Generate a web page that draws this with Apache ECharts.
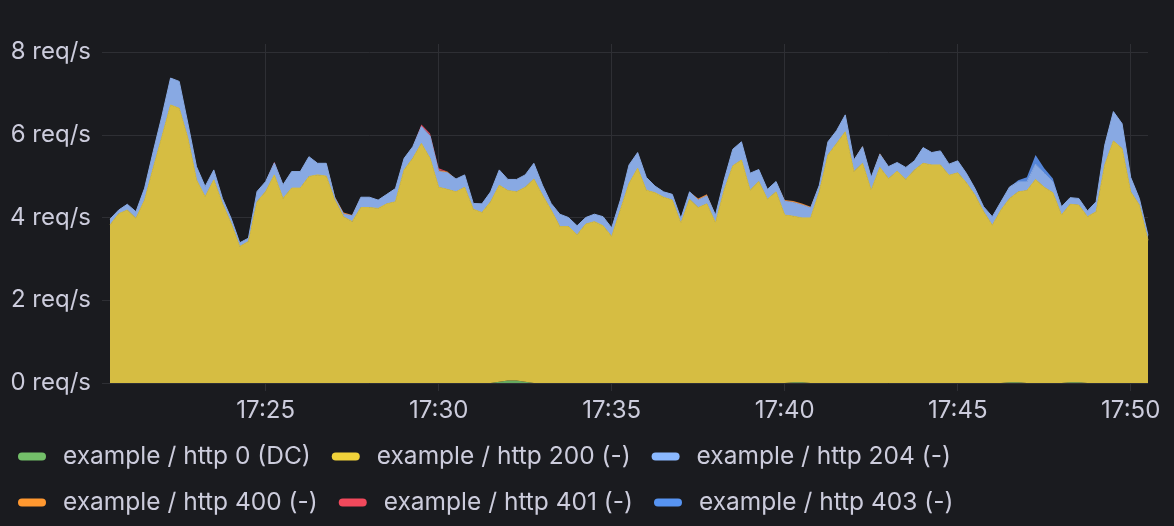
<!DOCTYPE html>
<html>
<head>
<meta charset="utf-8">
<script src="https://cdn.jsdelivr.net/npm/echarts@6/dist/echarts.min.js"></script>
<style>
    html, body { margin: 0; padding: 0; background: #1a1b1f; }
    #mainChart { width: 1174px; height: 526px; }
</style>
</head>
<body>
<div id="mainChart"></div>
<script>
// samples every 15 s, first one at 17:20:30
var startTime = new Date(2024, 0, 1, 17, 20, 30).getTime();
var stepMs = 15000;
var sampleCount = 121;
var yTicks = [0, 2, 4, 6, 8];
var seriesNames = ['example / http 0 (DC)', 'example / http 200 (-)', 'example / http 204 (-)',
    'example / http 400 (-)', 'example / http 401 (-)', 'example / http 403 (-)'];

var http200 = [
    3.82, 4.09, 4.18, 3.98, 4.42, 5.20, 5.95, 6.72, 6.64, 5.92,
    4.91, 4.50, 4.91, 4.34, 3.86, 3.30, 3.42, 4.38, 4.63, 5.03,
    4.46, 4.71, 4.71, 4.99, 5.03, 5.00, 4.42, 4.02, 3.90, 4.24,
    4.24, 4.22, 4.33, 4.38, 5.15, 5.43, 5.79, 5.43, 4.73, 4.68,
    4.62, 4.73, 4.20, 4.12, 4.38, 4.75, 4.59, 4.56, 4.70, 4.93,
    4.54, 4.18, 3.78, 3.78, 3.58, 3.84, 3.90, 3.80, 3.54, 4.18,
    4.82, 5.19, 4.66, 4.60, 4.49, 4.42, 3.86, 4.44, 4.24, 4.33,
    3.87, 4.66, 5.25, 5.39, 4.66, 4.87, 4.44, 4.62, 4.06, 4.01,
    3.97, 3.99, 4.62, 5.51, 5.79, 6.07, 5.11, 5.31, 4.66, 5.21,
    4.94, 5.12, 4.92, 5.15, 5.31, 5.27, 5.27, 5.02, 5.08, 4.84,
    4.54, 4.14, 3.81, 4.18, 4.44, 4.60, 4.65, 4.92, 4.73, 4.60,
    4.06, 4.30, 4.28, 4.02, 4.14, 5.27, 5.85, 5.67, 4.62, 4.30,
    3.45
];
var http204 = [
    0.14, 0.09, 0.14, 0.16, 0.29, 0.40, 0.50, 0.65, 0.65, 0.36,
    0.32, 0.25, 0.24, 0.12, 0.12, 0.09, 0.08, 0.25, 0.24, 0.29,
    0.33, 0.40, 0.40, 0.48, 0.28, 0.31, 0.05, 0.06, 0.14, 0.25,
    0.25, 0.20, 0.23, 0.32, 0.28, 0.28, 0.41, 0.54, 0.38, 0.40,
    0.31, 0.30, 0.14, 0.21, 0.24, 0.37, 0.27, 0.30, 0.30, 0.38,
    0.24, 0.16, 0.30, 0.22, 0.22, 0.16, 0.18, 0.22, 0.21, 0.24,
    0.45, 0.38, 0.31, 0.16, 0.13, 0.14, 0.12, 0.18, 0.18, 0.19,
    0.19, 0.25, 0.40, 0.44, 0.41, 0.29, 0.24, 0.25, 0.33, 0.33,
    0.31, 0.24, 0.16, 0.32, 0.31, 0.41, 0.28, 0.40, 0.31, 0.32,
    0.29, 0.21, 0.29, 0.22, 0.38, 0.30, 0.34, 0.27, 0.29, 0.23,
    0.16, 0.12, 0.21, 0.20, 0.28, 0.24, 0.21, 0.37, 0.34, 0.26,
    0.20, 0.16, 0.16, 0.14, 0.24, 0.48, 0.71, 0.60, 0.35, 0.16,
    0.12
];
// the small series are mostly zero: sample index -> value
var http0 = {45: 0.03, 46: 0.06, 47: 0.06, 48: 0.03, 79: 0.02, 80: 0.02, 104: 0.02, 105: 0.02, 111: 0.02, 112: 0.02};
var http400 = {26: 0.03, 27: 0.04, 28: 0.02, 37: 0.02, 38: 0.04, 39: 0.03, 68: 0.04, 69: 0.04,
    78: 0.03, 79: 0.04, 80: 0.04, 81: 0.03, 87: 0.02, 89: 0.02};
var http401 = {19: 0.03, 36: 0.05, 37: 0.04, 38: 0.04};
var http403 = {105: 0.04, 106: 0.11, 107: 0.22, 108: 0.12, 109: 0.08};

var lineColors = ['#73BF69', '#F0D23A', '#8AB8FF', '#FF9830', '#F2495C', '#5794F2'];
var fillColors = ['#66a95f', '#d6bd42', '#88a9e3', '#e0863a', '#d5475a', '#5586da'];

var option;
var summaryChart;
var timeLabels = [];

function pad(n) { return n < 10 ? '0' + n : '' + n; }

function buildTimes() {
    for (var i = 0; i < sampleCount; i++) {
        var d = new Date(startTime + i * stepMs);
        timeLabels.push(pad(d.getHours()) + ':' + pad(d.getMinutes()) + ':' + pad(d.getSeconds()));
    }
}

function toList(vals) {
    if (Array.isArray(vals)) return vals;
    var out = [];
    for (var i = 0; i < sampleCount; i++) {
        out.push(vals[i] || 0);
    }
    return out;
}

// a tick every 5 minutes, on the full minute
function isFiveMin(idx, value) {
    var p = timeLabels[idx].split(':');
    return p[2] === '00' && (+p[1]) % 5 === 0;
}

function initSummaryChart() {
    buildTimes();
    var allData = [http0, http200, http204, http400, http401, http403];
    var series = [];
    for (var s = 0; s < seriesNames.length; s++) {
        var big = (s === 1 || s === 2);
        series.push({
            name: seriesNames[s],
            type: 'line',
            stack: 'total',
            data: toList(allData[s]),
            showSymbol: false,
            color: lineColors[s],
            lineStyle: { width: big ? 1 : 0, color: fillColors[s] },
            areaStyle: { color: fillColors[s], opacity: 1 },
            emphasis: { disabled: true }
        });
    }
    var textColor = '#ccccdc';
    var gridColor = '#2e2f34';
    option = {
        backgroundColor: '#1a1b1f',
        animation: false,
        textStyle: { fontFamily: 'Inter, Roboto, sans-serif' },
        grid: { left: 110, right: 26, top: 44, bottom: 143 },
        legend: {
            left: 18,
            top: 444,
            right: 0,
            padding: 0,
            itemWidth: 28,
            itemHeight: 8,
            itemGap: 21,
            icon: 'path://M4 0H24A4 4 0 0 1 24 8H4A4 4 0 0 1 4 0Z',
            data: seriesNames,
            textStyle: { color: textColor, fontSize: 24.5, lineHeight: 22, padding: [0, 0, 0, 12] }
        },
        xAxis: {
            type: 'category',
            boundaryGap: false,
            data: timeLabels,
            axisLine: { show: false },
            axisTick: {
                show: true, length: 8, interval: isFiveMin,
                lineStyle: { color: gridColor }
            },
            axisLabel: {
                color: textColor, fontSize: 24, margin: 16, interval: isFiveMin,
                formatter: function (v) { return v.slice(0, 5); }
            },
            splitLine: { show: true, interval: isFiveMin, lineStyle: { color: gridColor, width: 1 } }
        },
        yAxis: {
            type: 'value',
            min: 0,
            max: 8 + 8 / 41.375,
            axisLine: { show: false },
            axisTick: {
                show: true, length: 8,
                lineStyle: { color: gridColor },
                customValues: yTicks
            },
            axisLabel: {
                color: textColor, fontSize: 24, margin: 19,
                customValues: yTicks,
                formatter: function (v) { return v + ' req/s'; }
            },
            splitLine: { show: true, lineStyle: { color: gridColor, width: 1 } }
        },
        series: series
    };
}

initSummaryChart();
summaryChart = echarts.init(document.getElementById('mainChart'));
summaryChart.setOption(option);
</script>
</body>
</html>
